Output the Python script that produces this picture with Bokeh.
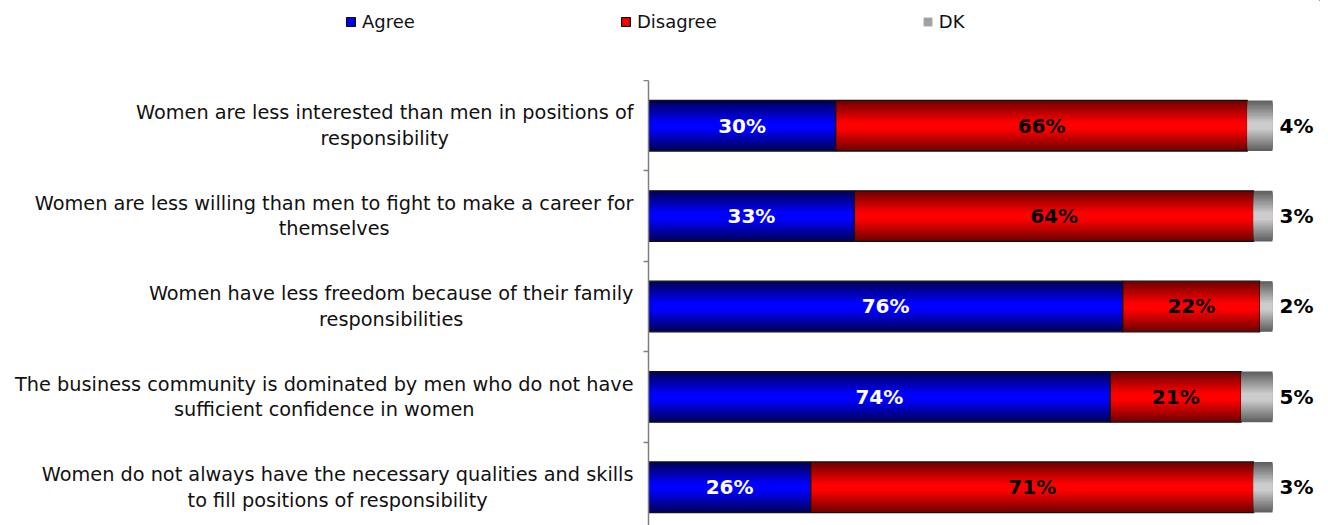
from bokeh.plotting import figure
from bokeh.layouts import column, row
from bokeh.models import ColumnDataSource, Range1d, FixedTicker, Legend, LegendItem
from bokeh.core.properties import value
from bokeh.embed import file_html
from bokeh.resources import INLINE

# ---------------- data ----------------
categories = [
    "Women are less interested than men in positions of\nresponsibility",
    "Women are less willing than men to fight to make a career for\nthemselves",
    "Women have less freedom because of their family\nresponsibilities",
    "The business community is dominated by men who do not have\nsufficient confidence in women",
    "Women do not always have the necessary qualities and skills\nto fill positions of responsibility",
]
agree = [30, 33, 76, 74, 26]
disagree = [66, 64, 22, 21, 71]
dk = [4, 3, 2, 5, 3]
series_names = ["Agree", "Disagree", "DK"]

# ---------------- styles ----------------
FONT = "DejaVu Sans"
BAR_H = 0.56
EDGE = {"Agree": "#000058", "Disagree": "#700000", "DK": "#606060"}
CENTER = {"Agree": "#0000ff", "Disagree": "#ff0000", "DK": "#cccccc"}
OUTLINE = {"Agree": "#111111", "Disagree": "#111111", "DK": None}
LABEL_COLOR = {"Agree": "white", "Disagree": "black"}


def mix(c1, c2, t):
    a = [int(c1[i:i + 2], 16) for i in (1, 3, 5)]
    b = [int(c2[i:i + 2], 16) for i in (1, 3, 5)]
    return "#%02x%02x%02x" % tuple(round(a[j] + (b[j] - a[j]) * t) for j in range(3))


def bare(fig):
    fig.outline_line_color = None
    fig.grid.visible = False
    fig.background_fill_color = "white"
    fig.border_fill_color = "white"


n = len(categories)
ypos = [n - 1 - i for i in range(n)]

series_vals = {"Agree": agree, "Disagree": disagree, "DK": dk}
lefts = {}
rights = {}
run = [0] * n
for s in series_names:
    lefts[s] = list(run)
    run = [run[i] + series_vals[s][i] for i in range(n)]
    rights[s] = list(run)

sources = {}
for s in series_names:
    sources[s] = ColumnDataSource(dict(
        y=ypos, left=lefts[s], right=rights[s],
        mid=[(lefts[s][i] + rights[s][i]) / 2 for i in range(n)],
        lab=[f"{v}%" for v in series_vals[s]]))

# ---------------- main plot ----------------
p = figure(
    width=684, height=445,
    x_range=Range1d(0, 107.69), y_range=Range1d(-0.423, 4.5),
    x_axis_type=None,
    output_backend="svg", toolbar_location=None,
    min_border_left=12, min_border_right=0, min_border_top=0, min_border_bottom=0,
)
bare(p)

NL = 16
for s in series_names:
    src = sources[s]
    for k in range(NL):
        f = 1 - 0.85 * k / (NL - 1)
        t = k / (NL - 1)
        p.hbar(y="y", left="left", right="right", height=BAR_H * f, source=src,
               fill_color=mix(EDGE[s], CENTER[s], t), line_color=None)
    p.hbar(y="y", left="left", right="right", height=BAR_H, source=src,
           fill_color=None, line_color=OUTLINE[s], line_width=1.3)

    if s in LABEL_COLOR:
        p.text(x="mid", y="y", text="lab", source=src, text_color=LABEL_COLOR[s],
               text_font=value(FONT), text_font_style="bold", text_font_size="20px",
               text_align="center", text_baseline="middle")
    else:
        p.text(x="right", y="y", text="lab", source=src, x_offset=24, text_color="black",
               text_font=value(FONT), text_font_style="bold", text_font_size="20px",
               text_align="center", text_baseline="middle")

ax = p.yaxis[0]
ax.ticker = FixedTicker(ticks=[], minor_ticks=[y + 0.5 for y in ypos])
ax.major_tick_out = 0
ax.major_tick_in = 0
ax.major_label_standoff = 0
ax.minor_tick_out = 5
ax.minor_tick_in = 0
ax.minor_tick_line_color = "#808080"
ax.minor_tick_line_width = 1.5
ax.axis_line_color = "#808080"
ax.axis_line_width = 1.5

# ---------------- category labels (left of the axis) ----------------
lf = figure(
    width=636, height=445,
    x_range=Range1d(-100, 0), y_range=p.y_range,
    x_axis_type=None, y_axis_type=None,
    output_backend="svg", toolbar_location=None, min_border=0,
)
bare(lf)
cat_src = ColumnDataSource(dict(x=lefts["Agree"], y=ypos, text=categories))
lf.text(x="x", y="y", text="text", source=cat_src, x_offset=-3,
        anchor=value("center_right"), text_align="center",
        text_font=value(FONT), text_font_size="19.3px", text_color="#111111",
        text_line_height=1.11)

# ---------------- legend strip ----------------
top = figure(
    width=1320, height=80,
    x_range=Range1d(-2, -1), y_range=Range1d(-2, -1),
    x_axis_type=None, y_axis_type=None,
    output_backend="svg", toolbar_location=None, min_border=0,
)
bare(top)
items = []
for s in series_names:
    if OUTLINE[s]:
        r = top.hbar(y="y", left="left", right="right", height=BAR_H, source=sources[s],
                     fill_color=CENTER[s], line_color=OUTLINE[s], line_width=1.3)
    else:
        r = top.hbar(y="y", left="left", right="right", height=BAR_H, source=sources[s],
                     fill_color=mix(EDGE[s], CENTER[s], 0.6), line_color=None)
    items.append(LegendItem(label=s, renderers=[r]))

legend = Legend(items=items, orientation="horizontal", location=(345, 48),
                label_text_font=FONT, label_text_font_size="18px", label_text_color="#111111",
                glyph_width=11, glyph_height=11, label_standoff=6, spacing=205,
                padding=0, margin=0, border_line_color=None, background_fill_alpha=0,
                label_height=20)
top.add_layout(legend)

layout = column(top, row(lf, p))
open("out.html", "w").write(file_html(layout, INLINE))
